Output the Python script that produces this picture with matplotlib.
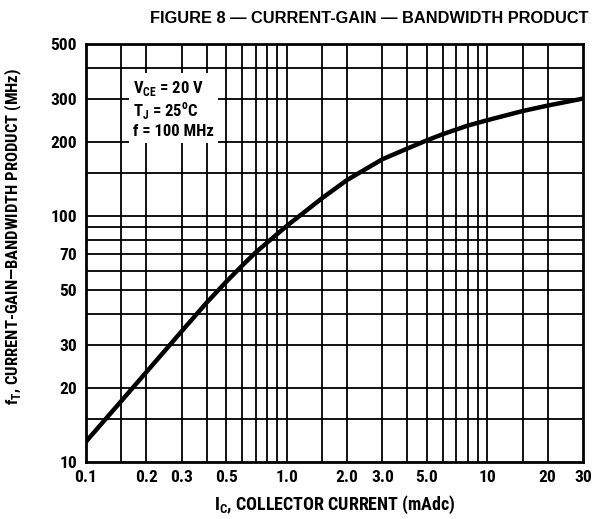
import matplotlib
matplotlib.use("Agg")
import matplotlib.pyplot as plt
from matplotlib import font_manager

# Data
ic_ma = [0.1, 0.15, 0.2, 0.3, 0.4, 0.5, 0.6, 0.7, 0.83, 1.0, 1.5, 2.0, 3.0, 4.0, 5.0, 6.0, 8.0, 10.0, 15.0, 20.0, 30.0]
ft_mhz = [12.1, 17.7, 23.2, 34.0, 44.5, 54.0, 62.8, 71.0, 80.0, 91.0, 118.0, 140.0, 170.0, 188.0, 203.0, 215.0, 233.0, 245.0, 267.0, 281.0, 300.0]

x_ticks = [0.1, 0.2, 0.3, 0.5, 1.0, 2.0, 3.0, 5.0, 10, 20, 30]
x_tick_labels = ["0.1", "0.2", "0.3", "0.5", "1.0", "2.0", "3.0", "5.0", "10", "20", "30"]
y_ticks = [10, 20, 30, 50, 70, 100, 200, 300, 500]
y_tick_labels = ["10", "20", "30", "50", "70", "100", "200", "300", "500"]

x_grid = [0.15, 0.2, 0.3, 0.4, 0.5, 0.6, 0.7, 0.8, 0.9, 1.0, 1.5, 2, 3, 4, 5, 6, 7, 8, 9, 10, 15, 20]
y_grid = [15, 20, 30, 40, 50, 60, 70, 80, 90, 100, 150, 200, 300, 400]

names = {f.name for f in font_manager.fontManager.ttflist}
fam = "DejaVu Sans"
for cand in ["Liberation Sans Narrow", "Roboto Condensed", "Open Sans Condensed", "Liberation Sans"]:
    if cand in names:
        fam = cand
        break
title_fam = "Liberation Sans" if "Liberation Sans" in names else "DejaVu Sans"
plt.rcParams["font.family"] = [fam, "DejaVu Sans"]
plt.rcParams["font.stretch"] = "condensed"
plt.rcParams["mathtext.fontset"] = "custom"
plt.rcParams["mathtext.rm"] = fam + ":bold"
plt.rcParams["mathtext.bf"] = fam + ":bold"

fig = plt.figure(figsize=(6.08, 5.19), dpi=100)
ax = fig.add_axes([0.1414, 0.1098, 0.8174, 0.8054])
ax.set_xscale("log")
ax.set_yscale("log")
ax.set_xlim(0.1, 30)
ax.set_ylim(10, 500)

for xv in x_grid:
    ax.axvline(xv, color="black", lw=1.3, zorder=1)
for yv in y_grid:
    ax.axhline(yv, color="black", lw=1.3, zorder=1)

ax.plot(ic_ma, ft_mhz, color="black", lw=3.2, zorder=3, solid_joinstyle="round")

ax.set_xticks(x_ticks)
ax.set_xticklabels(x_tick_labels)
ax.set_yticks(y_ticks)
ax.set_yticklabels(y_tick_labels)
ax.minorticks_off()
ax.tick_params(axis="both", length=0, labelsize=12.5)
ax.tick_params(axis="x", pad=6)
ax.tick_params(axis="y", pad=6.5)
for lab in ax.get_xticklabels() + ax.get_yticklabels():
    lab.set_fontweight("bold")
for s in ax.spines.values():
    s.set_linewidth(2.0)

ax.text(0.095, 0.845, "V$_{\\mathregular{CE}}$ = 20 V\nT$_{\\mathregular{J}}$ = 25$^{\\mathregular{o}}$C\nf = 100 MHz",
        transform=ax.transAxes, fontsize=12, fontweight="bold", va="center", ha="left",
        linespacing=1.15, zorder=5,
        bbox=dict(facecolor="white", edgecolor="none", pad=3))

fig.text(0.607, 0.965, "FIGURE 8 \u2014 CURRENT-GAIN \u2014 BANDWIDTH PRODUCT",
         ha="center", va="center", fontsize=11.8, fontweight="bold",
         family=title_fam, fontstretch="normal")
ax.set_xlabel("I$_{\\mathregular{C}}$, COLLECTOR CURRENT (mAdc)", fontsize=13, fontweight="bold")
ax.xaxis.set_label_coords(0.5, -0.075)
ax.set_ylabel("f$_{\\mathregular{T}}$, CURRENT-GAIN\u2014BANDWIDTH PRODUCT (MHz)", fontsize=12,
              fontweight="bold")
ax.yaxis.set_label_coords(-0.125, 0.54)

fig.savefig("out.png", dpi=100)
